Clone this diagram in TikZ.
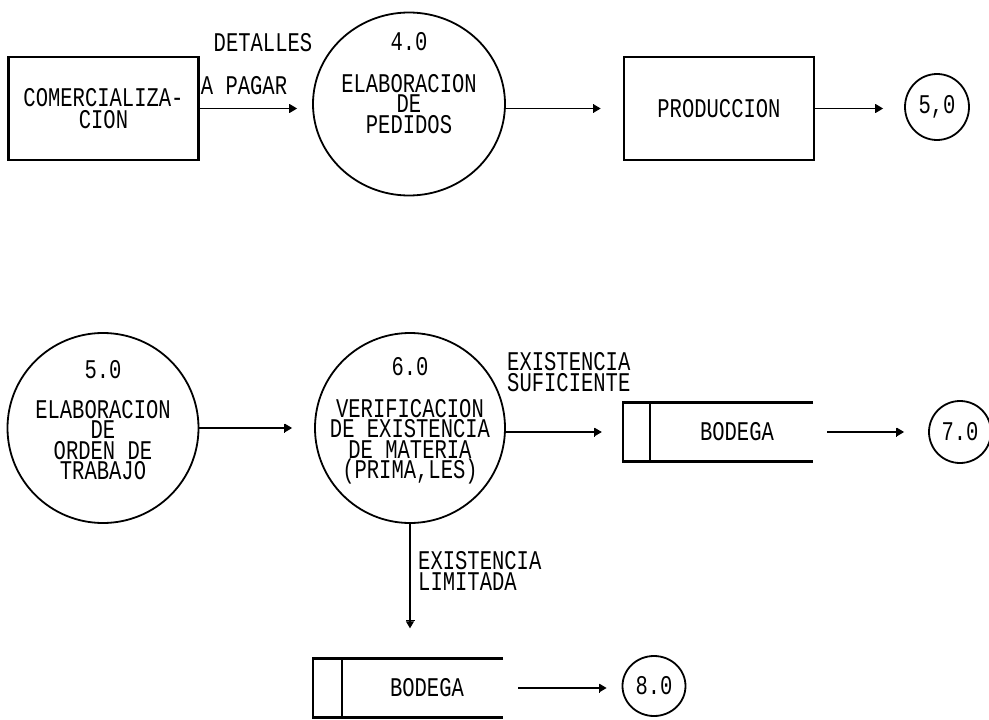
\documentclass[tikz,border=0pt]{standalone}
\usepackage{fontspec}
\newfontfamily\dotfont[FakeStretch=0.76]{Liberation Mono}
\usetikzlibrary{arrows.meta,shapes.geometric}
\begin{document}
\begin{tikzpicture}[x=1pt,y=-1pt,
  txt/.style={font=\dotfont\fontsize{27}{20.5}\selectfont, align=center, inner sep=0pt},
  entity/.style={txt, draw, line width=2.6pt, minimum width=190pt, minimum height=103pt},
  bubble/.style={ellipse, draw, line width=1.8pt, inner sep=0pt},
  store/.style={txt, minimum width=190pt, minimum height=59pt},
  flow/.style={line width=1.1pt, -{Bar[width=9pt,line width=1.1pt]Triangle[length=7pt,width=8pt]}}
]
\useasboundingbox (0,0) rectangle (989,720);

% --- upper row ---
\node[entity, font=\dotfont\fontsize{27}{22}\selectfont] (com) at (103.5,108.5) {COMERCIALIZA-\\CION};
\node[bubble, minimum width=192pt, minimum height=183pt] (c4) at (409,104) {};
\node[txt] (c4n) at (409,42) {4.0};
\node[txt] (c4t) at (409,104) {ELABORACION\\DE\\PEDIDOS};
\node[entity] (prod) at (719,108.5) {PRODUCCION};
\node[bubble, minimum width=64pt, minimum height=66pt] (c50) at (937,107) {};
\node[txt] at (c50) {5,0};

\node[txt] (lbl1) at (263,43) {DETALLES};
\node[txt] (lbl2) at (244,86) {A PAGAR};

\draw[flow, shorten >=15pt] (com.east) -- (com.east -| c4.west);
\draw[flow, shorten >=22pt] (c4.east |- prod.west) -- (prod.west);
\draw[flow, shorten >=21pt] (prod.east) -- (prod.east -| c50.west);

% --- lower row ---
\node[bubble, minimum width=191pt, minimum height=190pt] (c5) at (103,428) {};
\node[txt] (c5n) at (103,370) {5.0};
\node[txt] (c5t) at (103,440) {ELABORACION\\DE\\ORDEN DE\\TRABAJO};

\node[bubble, minimum width=190pt, minimum height=190pt] (c6) at (410,428) {};
\node[txt] (c6n) at (410,367) {6.0};
\node[txt] (c6t) at (410,442) {VERIFICACION\\DE EXISTENCIA\\DE MATERIA\\(PRIMA,LES)};

\node[store] (st1) at (718,432) {\hspace*{38pt}BODEGA};
\draw[line width=2.6pt] (st1.north east) -- (st1.north west) -- (st1.south west) -- (st1.south east);
\draw[line width=2.2pt] ([xshift=27pt]st1.north west) -- ([xshift=27pt]st1.south west);

\node[bubble, minimum width=62pt, minimum height=62pt] (c7) at (960,432) {};
\node[txt] at (c7) {7.0};

\node[txt, align=left, anchor=west] (lbl3) at (507,372) {EXISTENCIA\\SUFICIENTE};

\draw[flow, shorten >=22pt] (c5.east |- c6.west) -- (c6.west);
\draw[flow, shorten >=21pt] (c6.east |- st1.west) -- (st1.west);
\draw[flow, shorten <=14pt, shorten >=24pt] (st1.east) -- (st1.east -| c7.west);

% --- limited stock branch ---
\node[store] (st2) at (408,688) {\hspace*{38pt}BODEGA};
\draw[line width=2.6pt] (st2.north east) -- (st2.north west) -- (st2.south west) -- (st2.south east);
\draw[line width=2.2pt] ([xshift=29pt]st2.north west) -- ([xshift=29pt]st2.south west);

\node[bubble, minimum width=63pt, minimum height=60pt] (c8) at (654,686) {};
\node[txt] at (c8) {8.0};

\node[txt, align=left, anchor=west] (lbl4) at (418,571) {EXISTENCIA\\LIMITADA};

\draw[flow, shorten >=30pt] (c6.south) -- (c6.south |- st2.north);
\draw[flow, shorten <=15pt, shorten >=15pt] (st2.east) -- (st2.east -| c8.west);
\end{tikzpicture}
\end{document}
